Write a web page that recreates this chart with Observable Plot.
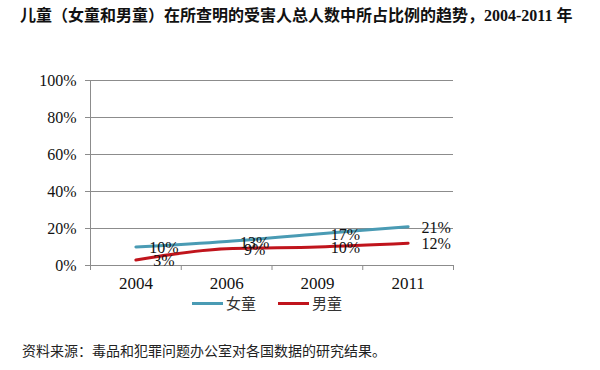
<!DOCTYPE html>
<html>
<head>
<meta charset="utf-8">
<script src="https://cdn.jsdelivr.net/npm/d3@7"></script>
<script src="https://cdn.jsdelivr.net/npm/@observablehq/plot@0.6"></script>
<style>
  body { margin: 0; background: #fff; width: 600px; height: 370px; position: relative; overflow: hidden; }
  #title { position: absolute; left: 20px; top: 6px; font-family: "Liberation Serif", "Noto Sans CJK SC", serif; font-weight: bold; font-size: 16px; line-height: 20px; color: #111; white-space: nowrap; }
  #chart { position: absolute; left: 0; top: 35px; }
  #legend { position: absolute; left: 192px; top: 293px; display: flex; align-items: center; font-family: "Noto Sans CJK SC", sans-serif; font-size: 15px; line-height: 20px; color: #333; }
  #legend .sw { display: inline-block; width: 31px; height: 3px; margin-right: 3px; }
  #legend .item { display: flex; align-items: center; margin-right: 22px; }
  #caption { position: absolute; left: 22px; top: 343px; font-family: "Liberation Serif", "Noto Sans CJK SC", serif; font-size: 14px; line-height: 18px; color: #222; white-space: nowrap; }
</style>
</head>
<body>
<div id="title">儿童（女童和男童）在所查明的受害人总人数中所占比例的趋势，2004-2011 年</div>
<div id="chart"></div>
<div id="legend"></div>
<div id="caption">资料来源：毒品和犯罪问题办公室对各国数据的研究结果。</div>
<script>
const years = ["2004", "2006", "2009", "2011"];
const girls = [10, 13, 17, 21];
const boys = [3, 9, 10, 12];
const seriesNames = ["女童", "男童"];
const seriesColors = ["#4a9bb4", "#c0141c"];
const yTicks = [0, 20, 40, 60, 80, 100];

const rows = [];
years.forEach((yr, i) => {
  rows.push({ i: i + 0.5, year: yr, value: girls[i], series: seriesNames[0] });
  rows.push({ i: i + 0.5, year: yr, value: boys[i], series: seriesNames[1] });
});
const boundaries = d3.range(years.length + 1);
const centers = years.map((_, i) => i + 0.5);

const serif = "Liberation Serif, DejaVu Serif, serif";

const chart = Plot.plot({
  width: 600,
  height: 260,
  marginTop: 45,
  marginBottom: 30,
  marginLeft: 90,
  marginRight: 147,
  style: { fontFamily: serif, fontSize: "16px", color: "#111", background: "#fff" },
  x: { type: "linear", domain: [0, years.length] },
  y: { domain: [0, 100] },
  color: { domain: seriesNames, range: seriesColors },
  marks: [
    Plot.gridY(yTicks, { stroke: "#8c8c8c", strokeOpacity: 1, x1: 0, x2: years.length }),
    Plot.axisY({ ticks: yTicks, tickSize: 5, tickPadding: 9, stroke: "#8c8c8c", tickFormat: d => d + "%", fontSize: 16, label: null }),
    Plot.ruleX([0], { stroke: "#8c8c8c" }),
    Plot.axisX({ ticks: boundaries, tickSize: 5, stroke: "#8c8c8c", tickFormat: () => "", label: null }),
    Plot.axisX({ ticks: centers, tickSize: 0, tickPadding: 11, tickFormat: d => years[Math.floor(d)], fontSize: 17, label: null }),
    Plot.line(rows, { x: "i", y: "value", z: "series", stroke: "series", strokeWidth: 3, curve: "monotone-x" }),
    Plot.text(rows, { x: "i", y: "value", text: d => d.value + "%", dx: 28, dy: 1, fill: "#111", fontSize: 16, fontFamily: serif })
  ]
});
document.getElementById("chart").appendChild(chart);

const legend = document.getElementById("legend");
seriesNames.forEach((name, k) => {
  const item = document.createElement("span");
  item.className = "item";
  const sw = document.createElement("span");
  sw.className = "sw";
  sw.style.background = seriesColors[k];
  item.appendChild(sw);
  item.appendChild(document.createTextNode(name));
  legend.appendChild(item);
});
</script>
</body>
</html>
